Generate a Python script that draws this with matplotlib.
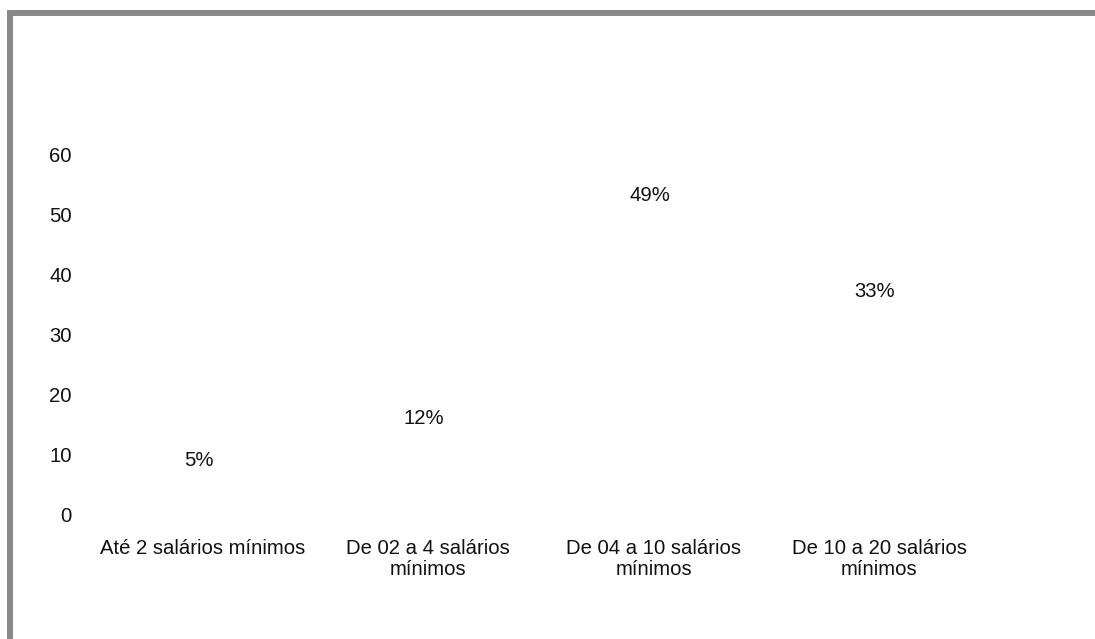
import matplotlib
matplotlib.use('agg')

import matplotlib.pyplot as plt
from matplotlib.patches import Rectangle

faixas = ['Até 2 salários mínimos', 'De 02 a 4 salários\nmínimos',
          'De 04 a 10 salários\nmínimos', 'De 10 a 20 salários\nmínimos']
percentuais = [5, 12, 49, 33]
yticks = [0, 10, 20, 30, 40, 50, 60]

plt.rcParams['font.family'] = ['Liberation Sans', 'DejaVu Sans']
plt.rcParams['font.size'] = 14.6

W, H = 1095, 639
fig = plt.figure(figsize=(W / 100, H / 100), dpi=100)
ax = fig.add_axes([90 / W, 1 - 515 / H, 902 / W, 360 / H])

x = range(len(faixas))
bars = ax.bar(x, percentuais, width=0.5, color='white')
for b, v in zip(bars, percentuais):
    ax.annotate('%d%%' % v, (b.get_x() + b.get_width() / 2, b.get_height()),
                xytext=(-3, 18), textcoords='offset points',
                ha='center', va='center', color='#111111', annotation_clip=False)

ax.set_xlim(-0.5, len(faixas) - 0.5)
ax.set_ylim(0, 60)
ax.set_yticks(yticks)
ax.set_xticks(list(x))
ax.set_xticklabels(faixas, linespacing=1.1, color='#111111')
ax.tick_params(axis='x', length=0, pad=17.5)
ax.tick_params(axis='y', length=0, pad=13, labelcolor='#111111')
for s in ax.spines.values():
    s.set_visible(False)

# gray frame, only top and left edges fall inside the canvas
fig.patches.append(Rectangle((10 / W, -0.1), 1.1, 1.1 - 13 / H,
                             transform=fig.transFigure, fill=False,
                             edgecolor='#888888', linewidth=4.3))

fig.savefig('out.png', dpi=100)
